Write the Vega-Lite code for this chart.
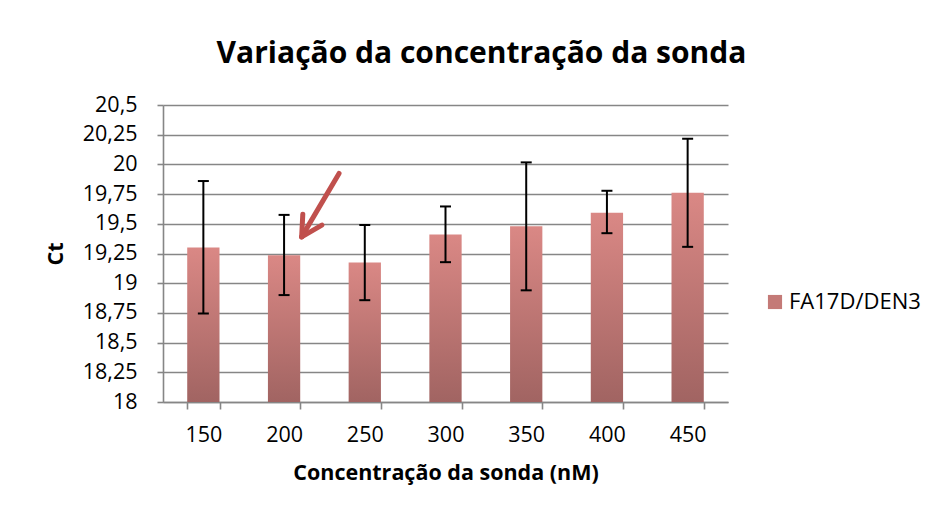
{
  "$schema": "https://vega.github.io/schema/vega-lite/v6.json",
  "autosize": {"type": "none"},
  "width": 565,
  "height": 297,
  "padding": {"left": 163, "top": 105, "right": 212, "bottom": 113},
  "background": "white",
  "title": {
    "text": "Variação da concentração da sonda",
    "anchor": "middle",
    "dx": 36,
    "offset": 25,
    "font": "Open Sans",
    "fontSize": 30,
    "fontWeight": "bold",
    "color": "black"
  },
  "config": {
    "font": "Open Sans",
    "view": {"stroke": null},
    "axis": {
      "gridColor": "#868686",
      "gridWidth": 1.6,
      "gridOpacity": 1,
      "domainColor": "#868686",
      "domainWidth": 1.6,
      "tickColor": "#868686",
      "tickWidth": 1.6,
      "tickSize": 6,
      "labelFont": "Open Sans",
      "labelFontSize": 21.5,
      "labelColor": "black",
      "labelOverlap": false,
      "titleFont": "Open Sans",
      "titleFontSize": 21.5,
      "titleFontWeight": "bold",
      "titleColor": "black"
    },
    "legend": {
      "labelFont": "Open Sans",
      "labelFontSize": 22,
      "labelColor": "black"
    }
  },
  "datasets": {
    "main": [
      {"conc": "150", "ct": 19.30, "lo": 18.745, "hi": 19.86, "serie": "FA17D/DEN3"},
      {"conc": "200", "ct": 19.236, "lo": 18.90, "hi": 19.575, "serie": "FA17D/DEN3"},
      {"conc": "250", "ct": 19.174, "lo": 18.857, "hi": 19.49, "serie": "FA17D/DEN3"},
      {"conc": "300", "ct": 19.41, "lo": 19.177, "hi": 19.646, "serie": "FA17D/DEN3"},
      {"conc": "350", "ct": 19.48, "lo": 18.94, "hi": 20.017, "serie": "FA17D/DEN3"},
      {"conc": "400", "ct": 19.592, "lo": 19.421, "hi": 19.778, "serie": "FA17D/DEN3"},
      {"conc": "450", "ct": 19.761, "lo": 19.306, "hi": 20.216, "serie": "FA17D/DEN3"}
    ],
    "arrow": [
      {"xa": 234.05, "ya": 19.924, "xb": 210.9, "yb": 19.39},
      {"xa": 211.6, "ya": 19.581, "xb": 210.9, "yb": 19.39},
      {"xa": 223.4, "ya": 19.489, "xb": 210.9, "yb": 19.39}
    ]
  },
  "layer": [
    {
      "data": {"name": "main"},
      "encoding": {
        "x": {
          "field": "conc",
          "type": "ordinal",
          "sort": null,
          "scale": {"paddingInner": 0.6, "paddingOuter": 0.3},
          "axis": {
            "title": "Concentração da sonda (nM)",
            "labelAngle": 0,
            "tickBand": "extent",
            "tickSize": 7,
            "labelPadding": 15,
            "titlePadding": 17,
            "grid": false
          }
        }
      },
      "layer": [
        {
          "mark": {
            "type": "bar",
            "fill": {
              "gradient": "linear",
              "x1": 0, "y1": 0, "x2": 0, "y2": 1,
              "stops": [
                {"offset": 0, "color": "#da8885"},
                {"offset": 1, "color": "#a16462"}
              ]
            }
          },
          "encoding": {
            "y": {
              "field": "ct",
              "type": "quantitative",
              "scale": {"domain": [18, 20.5], "zero": false, "nice": false},
              "axis": {
                "title": "Ct",
                "values": [18, 18.25, 18.5, 18.75, 19, 19.25, 19.5, 19.75, 20, 20.25, 20.5],
                "labelExpr": "replace(format(datum.value, '.2~f'), '.', ',')",
                "labelPadding": 20,
                "titlePadding": 15,
                "grid": true
              }
            },
            "y2": {"datum": 18},
            "color": {
              "field": "serie",
              "type": "nominal",
              "scale": {"range": ["#c47a77"]},
              "legend": {
                "title": null,
                "orient": "none",
                "legendX": 601,
                "legendY": 186,
                "symbolType": "square",
                "symbolSize": 200,
                "symbolStrokeWidth": 0,
                "labelOffset": 3,
                "padding": 0
              }
            }
          }
        },
        {
          "mark": {"type": "rule", "color": "black", "strokeWidth": 2},
          "encoding": {
            "y": {
              "field": "lo",
              "type": "quantitative",
              "axis": {
                "title": "Ct",
                "values": [18, 18.25, 18.5, 18.75, 19, 19.25, 19.5, 19.75, 20, 20.25, 20.5],
                "labelExpr": "replace(format(datum.value, '.2~f'), '.', ',')",
                "labelPadding": 20,
                "titlePadding": 15,
                "grid": true
              }
            },
            "y2": {"field": "hi"}
          }
        },
        {
          "mark": {"type": "tick", "color": "black", "thickness": 2, "size": 11, "opacity": 1},
          "encoding": {
            "y": {
              "field": "lo",
              "type": "quantitative",
              "axis": {
                "title": "Ct",
                "values": [18, 18.25, 18.5, 18.75, 19, 19.25, 19.5, 19.75, 20, 20.25, 20.5],
                "labelExpr": "replace(format(datum.value, '.2~f'), '.', ',')",
                "labelPadding": 20,
                "titlePadding": 15,
                "grid": true
              }
            }
          }
        },
        {
          "mark": {"type": "tick", "color": "black", "thickness": 2, "size": 11, "opacity": 1},
          "encoding": {
            "y": {
              "field": "hi",
              "type": "quantitative",
              "axis": {
                "title": "Ct",
                "values": [18, 18.25, 18.5, 18.75, 19, 19.25, 19.5, 19.75, 20, 20.25, 20.5],
                "labelExpr": "replace(format(datum.value, '.2~f'), '.', ',')",
                "labelPadding": 20,
                "titlePadding": 15,
                "grid": true
              }
            }
          }
        }
      ]
    },
    {
      "data": {"name": "arrow"},
      "mark": {"type": "rule", "color": "#c0504d", "strokeWidth": 5, "strokeCap": "round"},
      "encoding": {
        "x": {"field": "xa", "type": "quantitative", "scale": {"domain": [125, 475], "nice": false, "zero": false}, "axis": null},
        "x2": {"field": "xb"},
        "y": {
          "field": "ya",
          "type": "quantitative",
          "axis": {
            "title": "Ct",
            "values": [18, 18.25, 18.5, 18.75, 19, 19.25, 19.5, 19.75, 20, 20.25, 20.5],
            "labelExpr": "replace(format(datum.value, '.2~f'), '.', ',')",
            "labelPadding": 20,
            "titlePadding": 15,
            "grid": true
          }
        },
        "y2": {"field": "yb"}
      }
    }
  ],
  "resolve": {"scale": {"x": "independent"}, "axis": {"x": "independent"}}
}
